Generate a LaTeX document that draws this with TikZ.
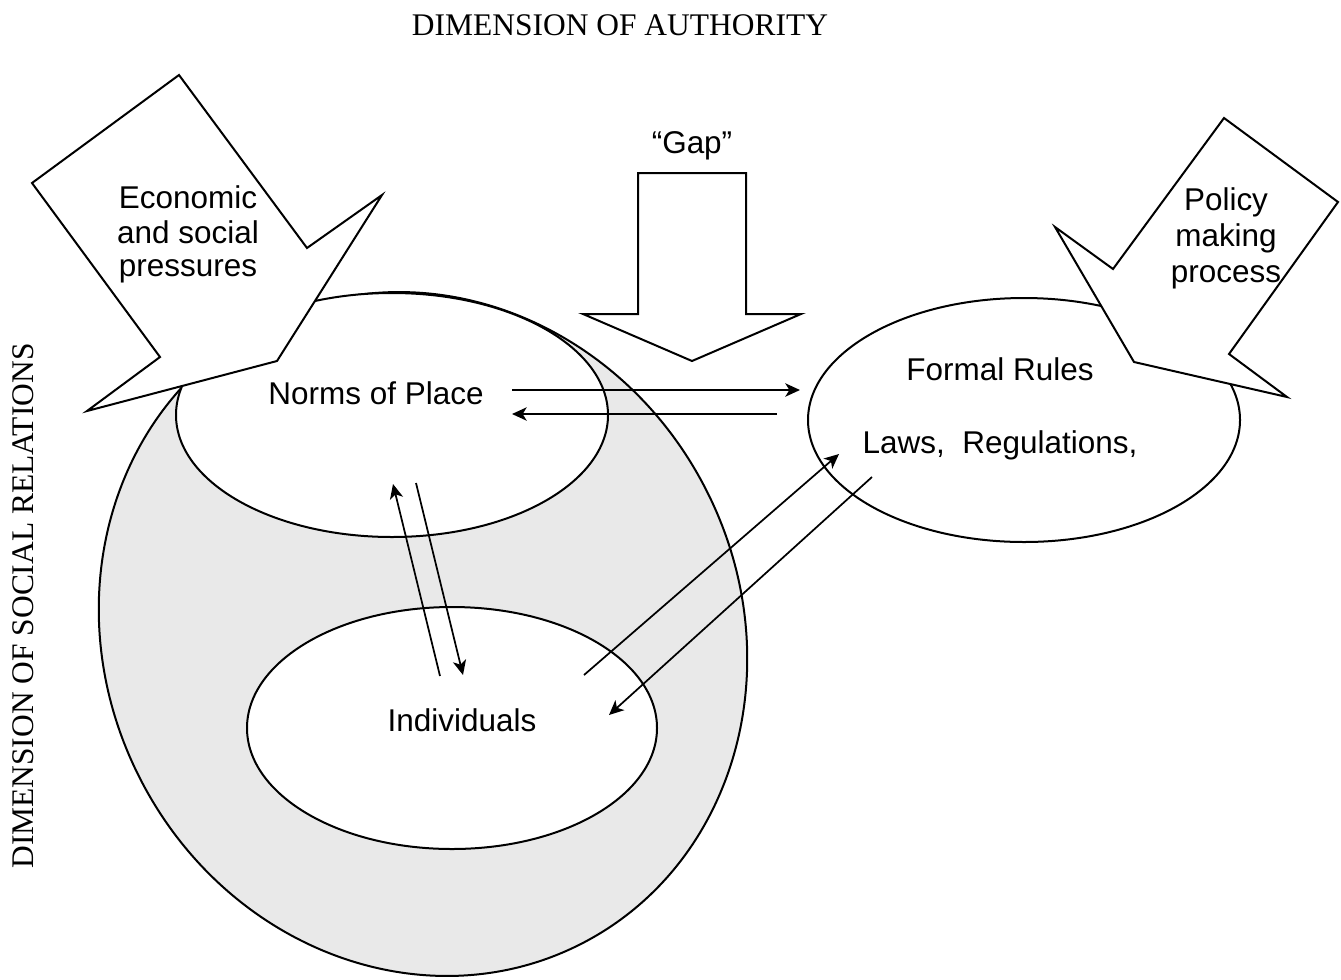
\documentclass[tikz,border=0pt]{standalone}
\usepackage{fontspec}
\setmainfont{Liberation Serif}
\newfontfamily\arialf{Liberation Sans}
\usetikzlibrary{shapes.geometric,arrows.meta}
\definecolor{ringgrey}{RGB}{233,233,233}
\begin{document}
\begin{tikzpicture}[x=0.75pt,y=-0.75pt,
  oval/.style={ellipse, draw, line width=1.5pt, fill=white, inner sep=0pt, outer sep=0pt},
  blockarrow/.style={draw, fill=white, line width=1.5pt, line join=miter},
  link/.style={line width=1.3pt, -{Stealth[length=11pt,width=10pt,inset=3pt]}},
  lbl/.style={font=\arialf\fontsize{23.6}{28}\selectfont, anchor=base, inner sep=0pt},
  dimlbl/.style={font=\fontsize{23.6}{28}\selectfont, anchor=base, inner sep=0pt}]
\useasboundingbox (0,0) rectangle (1341,979);
% grey sphere of social relations
\node[oval, fill=ringgrey, minimum width=476.6pt, minimum height=521.8pt, rotate=27] (social) at (423,634) {};
% ellipses
\node[oval, minimum width=324pt, minimum height=183pt] (norms) at (392,415) {};
\node[oval, minimum width=307.5pt, minimum height=181.5pt] (indiv) at (452,728) {};
\node[oval, minimum width=324pt, minimum height=183pt] (formal) at (1024,420) {};
% block arrows
\draw[blockarrow] (179,75) -- (32,183) -- (160,357) -- (87,411) -- (277,361) -- (382,195) -- (307,248) -- cycle;
\draw[blockarrow] (1224,118) -- (1338,202) -- (1229,354) -- (1287,397) -- (1134,362) -- (1055,227) -- (1113,269) -- cycle;
\draw[blockarrow] (638,173) -- (746,173) -- (746,314) -- (801,314) -- (692,361) -- (583,314) -- (638,314) -- cycle;
% texts
\node[dimlbl] (auth) at (620,35) {DIMENSION OF AUTHORITY};
\node[dimlbl, rotate=90] (socrel) at (33,606) {DIMENSION OF SOCIAL RELATIONS};
\node[lbl] (gap) at (692,153) {“Gap”};
\node[lbl] (eco1) at (188,208) {Economic};
\node[lbl] (eco2) at (188,243) {and social};
\node[lbl] (eco3) at (188,276) {pressures};
\node[lbl] (pol1) at (1226,210) {Policy};
\node[lbl] (pol2) at (1226,246) {making};
\node[lbl] (pol3) at (1226,282) {process};
\node[lbl] (normstxt) at (376,404) {Norms of Place};
\node[lbl] (indivtxt) at (462,731) {Individuals};
\node[lbl] (formaltxt) at (1000,380) {Formal Rules};
\node[lbl] (lawstxt) at (1000,453) {Laws,\ \ Regulations,};
% connector end points
\coordinate (nfA) at (512,390); \coordinate (nfB) at (800,390);
\coordinate (fnA) at (777,414); \coordinate (fnB) at (512,414);
\coordinate (inA) at (440,676); \coordinate (inB) at (393,484);
\coordinate (niA) at (416,483); \coordinate (niB) at (463,675);
\coordinate (ifA) at (584,675); \coordinate (ifB) at (839,454);
\coordinate (fiA) at (872,477); \coordinate (fiB) at (609,715);
\draw[link] (nfA) -- (nfB);
\draw[link] (fnA) -- (fnB);
\draw[link] (inA) -- (inB);
\draw[link] (niA) -- (niB);
\draw[link] (ifA) -- (ifB);
\draw[link] (fiA) -- (fiB);
\end{tikzpicture}
\end{document}
